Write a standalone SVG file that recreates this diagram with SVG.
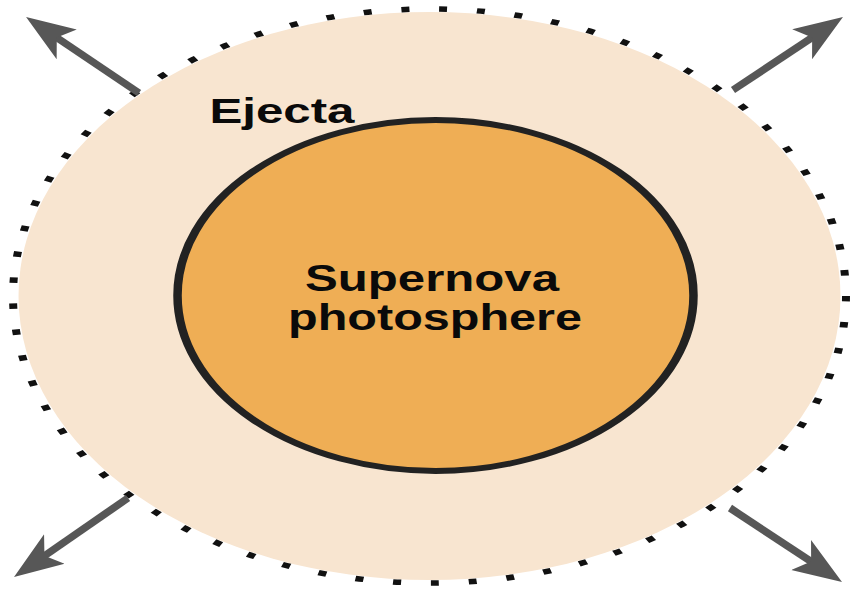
<svg xmlns="http://www.w3.org/2000/svg" width="857" height="590" viewBox="0 0 857 590">
  <style>
    .lbl { font-family: "Liberation Sans", Arial, sans-serif; font-weight: bold; fill: #0a0a0a; }
    .shaft { stroke: #575757; stroke-width: 7.5; fill: none; marker-end: url(#head); }
  </style>
  <defs>
    <marker id="head" markerUnits="userSpaceOnUse" markerWidth="54" markerHeight="40" viewBox="0 0 54 40" refX="14" refY="20" orient="auto">
      <path d="M49,20 L0,2 L12,20 L0,38 Z" fill="#575757"/>
    </marker>
  </defs>
  <rect width="857" height="590" fill="#ffffff"/>
  <g id="ejecta">
    <ellipse cx="429.5" cy="296" rx="411" ry="284" fill="#F8E5D0"/>
    <circle cx="0" cy="0" r="287" fill="none" stroke="#111111" stroke-width="5.5" stroke-dasharray="5.5 20.63" transform="translate(429.5 296) scale(1.4512 1)"/>
    <text class="lbl" x="282" y="123" font-size="35" text-anchor="middle" textLength="145" lengthAdjust="spacingAndGlyphs">Ejecta</text>
  </g>
  <g id="photosphere">
    <circle cx="0" cy="0" r="175.5" fill="#EFAE55" stroke="#222222" stroke-width="5.8" transform="translate(435.5 295.5) scale(1.47 1)"/>
    <text class="lbl" x="432" y="291" font-size="37" text-anchor="middle" textLength="254" lengthAdjust="spacingAndGlyphs">Supernova</text>
    <text class="lbl" x="435" y="330" font-size="37" text-anchor="middle" textLength="294" lengthAdjust="spacingAndGlyphs">photosphere</text>
  </g>
  <g id="connectors">
    <line class="shaft" x1="139" y1="93" x2="55.1" y2="36.5"/>
    <line class="shaft" x1="733" y1="90" x2="813.8" y2="36.4"/>
    <line class="shaft" x1="128" y1="498" x2="42.8" y2="557.0"/>
    <line class="shaft" x1="730" y1="508" x2="812.8" y2="562.7"/>
  </g>
</svg>
